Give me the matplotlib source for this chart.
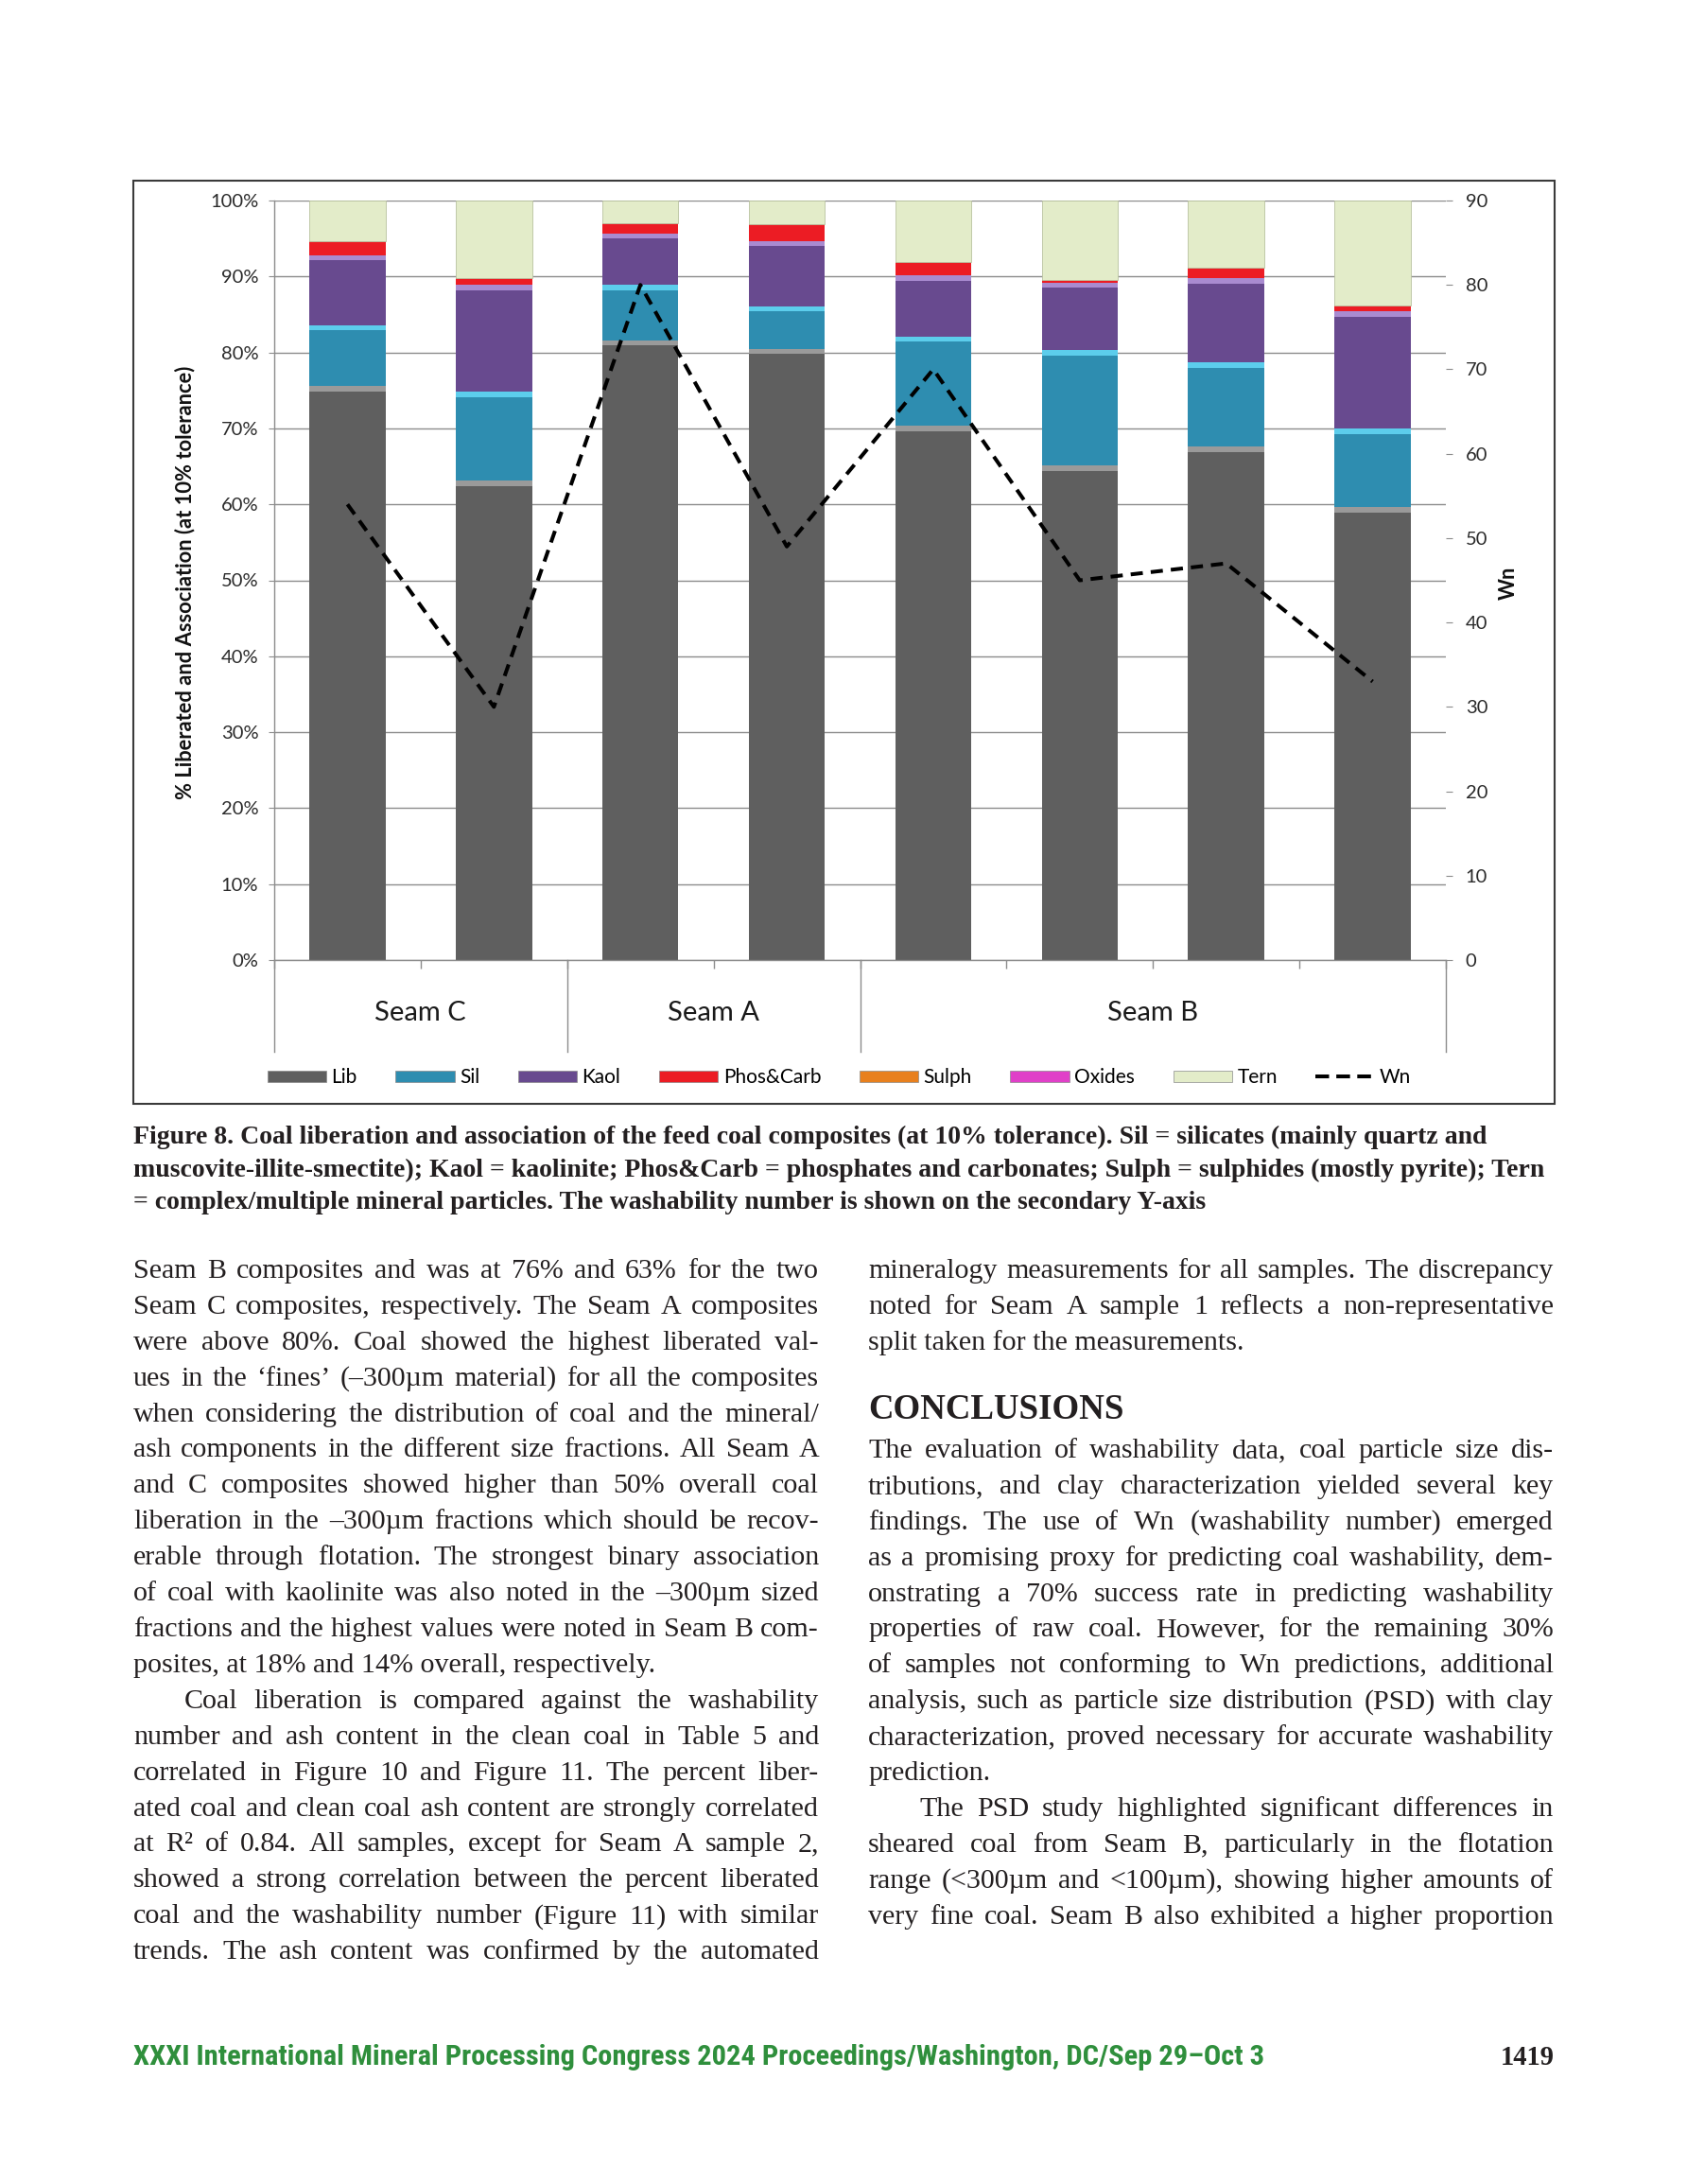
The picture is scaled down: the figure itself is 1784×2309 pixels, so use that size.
import matplotlib
matplotlib.use('Agg')
import matplotlib.pyplot as plt
import matplotlib.transforms as mtransforms
from matplotlib import font_manager
from matplotlib.patches import Rectangle, Patch
from matplotlib.lines import Line2D

W, H = 1784, 2309

# ---- chart data ----
samples = ['C1', 'C2', 'A1', 'A2', 'B1', 'B2', 'B3', 'B4']
groups = ['Seam C', 'Seam A', 'Seam B']
group_sizes = [2, 2, 4]

lib = [75.6, 63.1, 81.6, 80.5, 70.3, 65.1, 67.6, 59.6]
sil = [8.0, 11.7, 7.3, 5.6, 11.8, 15.2, 11.1, 10.4]
kaol = [9.2, 14.1, 6.8, 8.6, 8.0, 8.9, 11.1, 15.4]
phos = [1.9, 0.9, 1.3, 2.2, 1.8, 0.4, 1.4, 0.8]
sulph = [0, 0, 0, 0, 0, 0, 0, 0]
oxides = [0, 0, 0, 0, 0, 0, 0, 0]
tern = [5.3, 10.2, 3.0, 3.1, 8.1, 10.4, 8.8, 13.8]
wn = [54, 30, 80, 49, 70, 45, 47, 33]

series_names = ['Lib', 'Sil', 'Kaol', 'Phos&Carb', 'Sulph', 'Oxides', 'Tern']
series_vals = [lib, sil, kaol, phos, sulph, oxides, tern]
colors = ['#5f5f5f', '#2e8db0', '#684a8f', '#ec1c24', '#e8801e', '#e040c8', '#e3ecc9']
highlight = ['#9a9a9a', '#5ccdec', '#a98bd0', None, None, None, None]

# ---- page text ----
caption = [
    "Figure 8. Coal liberation and association of the feed coal composites (at 10% tolerance). Sil = silicates (mainly quartz and",
    "muscovite-illite-smectite); Kaol = kaolinite; Phos&Carb = phosphates and carbonates; Sulph = sulphides (mostly pyrite); Tern",
    "= complex/multiple mineral particles. The washability number is shown on the secondary Y-axis",
]
left_col = [
    ("Seam B composites and was at 76% and 63% for the two", 0, False),
    ("Seam C composites, respectively. The Seam A composites", 0, False),
    ("were above 80%. Coal showed the highest liberated val-", 0, False),
    ("ues in the \u2018fines\u2019 (\u2013300\u00b5m material) for all the composites", 0, False),
    ("when considering the distribution of coal and the mineral/", 0, False),
    ("ash components in the different size fractions. All Seam A", 0, False),
    ("and C composites showed higher than 50% overall coal", 0, False),
    ("liberation in the \u2013300\u00b5m fractions which should be recov-", 0, False),
    ("erable through flotation. The strongest binary association", 0, False),
    ("of coal with kaolinite was also noted in the \u2013300\u00b5m sized", 0, False),
    ("fractions and the highest values were noted in Seam B com-", 0, False),
    ("posites, at 18% and 14% overall, respectively.", 0, True),
    ("Coal liberation is compared against the washability", 1, False),
    ("number and ash content in the clean coal in Table 5 and", 0, False),
    ("correlated in Figure 10 and Figure 11. The percent liber-", 0, False),
    ("ated coal and clean coal ash content are strongly correlated", 0, False),
    ("at R\u00b2 of 0.84. All samples, except for Seam A sample 2,", 0, False),
    ("showed a strong correlation between the percent liberated", 0, False),
    ("coal and the washability number (Figure 11) with similar", 0, False),
    ("trends. The ash content was confirmed by the automated", 0, False),
]
right_top = [
    ("mineralogy measurements for all samples. The discrepancy", 0, False),
    ("noted for Seam A sample 1 reflects a non-representative", 0, False),
    ("split taken for the measurements.", 0, True),
]
right_bottom = [
    ("The evaluation of washability data, coal particle size dis-", 0, False),
    ("tributions, and clay characterization yielded several key", 0, False),
    ("findings. The use of Wn (washability number) emerged", 0, False),
    ("as a promising proxy for predicting coal washability, dem-", 0, False),
    ("onstrating a 70% success rate in predicting washability", 0, False),
    ("properties of raw coal. However, for the remaining 30%", 0, False),
    ("of samples not conforming to Wn predictions, additional", 0, False),
    ("analysis, such as particle size distribution (PSD) with clay", 0, False),
    ("characterization, proved necessary for accurate washability", 0, False),
    ("prediction.", 0, True),
    ("The PSD study highlighted significant differences in", 1, False),
    ("sheared coal from Seam B, particularly in the flotation", 0, False),
    ("range (<300\u00b5m and <100\u00b5m), showing higher amounts of", 0, False),
    ("very fine coal. Seam B also exhibited a higher proportion", 0, False),
]
footer = "XXXI International Mineral Processing Congress 2024 Proceedings/Washington, DC/Sep 29\u2013Oct 3"
page_no = "1419"

installed = {f.name for f in font_manager.fontManager.ttflist}
serif = ['Liberation Serif', 'DejaVu Serif']
chart_font = ['Lato', 'DejaVu Sans']
cond = [f for f in ['Liberation Sans Narrow', 'Roboto Condensed', 'Roboto'] if f in installed] + ['DejaVu Sans']
ink = '#231f20'

fig = plt.figure(figsize=(W / 100, H / 100), dpi=100)
renderer = fig.canvas.get_renderer()


def fx(px):
    return px / W


def fy(py):
    return 1 - py / H


def text_w(s, size, **kw):
    t = fig.text(0, 0, s, fontsize=size, **kw)
    w = t.get_window_extent(renderer).width
    t.remove()
    return w


def fit_size(s, width, **kw):
    return 20 * width / text_w(s, 20, **kw)


# ---- chart ----
ax = fig.add_axes([fx(290), fy(1015), fx(1529) - fx(290), fy(212) - fy(1015)])
x = list(range(len(samples)))
bw = 0.52
bottom = [0.0] * len(samples)
handles = []
for name, vals, c, hl in zip(series_names, series_vals, colors, highlight):
    ec = '#b9c2a0' if name == 'Tern' else 'none'
    ax.bar(x, vals, bw, bottom=bottom, color=c, edgecolor=ec, linewidth=0.6, zorder=2)
    if hl is not None:
        tops = [b + v for b, v in zip(bottom, vals)]
        ax.bar(x, [0.7] * len(x), bw, bottom=[t - 0.7 for t in tops], color=hl, edgecolor='none', zorder=3)
    handles.append(Patch(facecolor=c, edgecolor='#8a8a8a', linewidth=0.5, label=name))
    bottom = [b + v for b, v in zip(bottom, vals)]

ax.set_xlim(-0.5, len(samples) - 0.5)
ax.set_ylim(0, 100)
ax.set_yticks(range(0, 101, 10))
ax.set_yticklabels(['%d%%' % v for v in range(0, 101, 10)], family=chart_font, fontsize=14.5, color='#2a2a2a')
ax.yaxis.grid(True, color='#8c8c8c', linewidth=1.0, zorder=0)
ax.set_axisbelow(True)
ax.tick_params(axis='y', direction='out', length=4, color='#8c8c8c', pad=8)
bounds = [i - 0.5 for i in range(len(samples) + 1)]
ax.set_xticks(bounds)
ax.set_xticklabels([''] * len(bounds))
ax.tick_params(axis='x', direction='out', length=6.5, color='#8c8c8c', width=1)
for s in ['top', 'right']:
    ax.spines[s].set_visible(False)
for s in ['left', 'bottom']:
    ax.spines[s].set_color('#8c8c8c')
    ax.spines[s].set_linewidth(1.0)

# seam group separators and labels below the axis
trans = mtransforms.blended_transform_factory(ax.transData, ax.transAxes)
edges = [-0.5]
for n in group_sizes:
    edges.append(edges[-1] + n)
for e in edges:
    ax.plot([e, e], [0, -0.121], transform=trans, clip_on=False, color='#8c8c8c', lw=1.0)
for g, a, b in zip(groups, edges[:-1], edges[1:]):
    ax.text((a + b) / 2, -0.07, g, transform=trans, ha='center', va='center',
            family=chart_font, fontsize=21, color='#1a1a1a')

ax2 = ax.twinx()
ax2.set_ylim(0, 90)
ax2.set_yticks(range(0, 91, 10))
ax2.set_yticklabels([str(v) for v in range(0, 91, 10)], family=chart_font, fontsize=14.5, color='#2a2a2a')
ax2.tick_params(axis='y', direction='out', length=5, color='#8c8c8c', pad=10)
for s in ax2.spines.values():
    s.set_visible(False)
ax2.plot(x, wn, color='black', lw=2.9, linestyle=(0, (3.2, 2.1)), zorder=5)
handles.append(Line2D([0], [0], color='black', lw=2.9, linestyle=(0, (3.6, 1.9)), label='Wn'))

ylab = "% Liberated and Association (at 10% tolerance)"
ys = fit_size(ylab, 457, family=chart_font, fontweight='bold')
fig.text(fx(196), fy(616), ylab, rotation=90, ha='center', va='center',
         family=chart_font, fontweight='bold', fontsize=ys, color='#111111')
fig.text(fx(1595), fy(616), 'Wn', rotation=90, ha='center', va='center',
         family=chart_font, fontweight='bold', fontsize=ys, color='#111111')

fig.legend(handles=handles, loc='center', bbox_to_anchor=(fx((287 + 1488) / 2), fy(1139)), ncol=8,
           frameon=False, prop={'family': chart_font, 'size': 15}, handlelength=3.0,
           handleheight=0.5, handletextpad=0.25, columnspacing=1.95, borderpad=0)

fig.add_artist(Rectangle((fx(141.4), fy(1166.8)), fx(1644.1) - fx(141.4), fy(191.5) - fy(1166.8),
                         transform=fig.transFigure, fill=False, edgecolor='#3a3a3a', linewidth=1.5))

# ---- caption ----
cs = fit_size(caption[1], 1491, family=serif, fontweight='bold')
for line, by in zip(caption, [1209, 1243.5, 1278]):
    fig.text(fx(141), fy(by), line, ha='left', va='baseline', family=serif,
             fontweight='bold', fontsize=cs, color=ink)

# ---- body text, justified ----
col_w = 725
body_lines = [t for t, _, last in left_col + right_top + right_bottom if not last]
bs = min(fit_size(t, col_w, family=serif) for t in body_lines) * 0.995
indent_px = 54


def set_column(lines, x0, baselines):
    x1 = x0 + col_w
    for (line, ind, last), by in zip(lines, baselines):
        start = x0 + ind * indent_px
        words = line.split(' ')
        if last or len(words) == 1:
            fig.text(fx(start), fy(by), line, ha='left', va='baseline', family=serif, fontsize=bs, color=ink)
            continue
        widths = [text_w(w, bs, family=serif) for w in words]
        gap = (x1 - start - sum(widths)) / (len(words) - 1)
        xx = start
        for w, wd in zip(words, widths):
            fig.text(fx(xx), fy(by), w, ha='left', va='baseline', family=serif, fontsize=bs, color=ink)
            xx += wd + gap


step = 37.9
set_column(left_col, 141, [1351 + step * i for i in range(len(left_col))])
set_column(right_top, 918, [1351 + step * i for i in range(len(right_top))])
set_column(right_bottom, 918, [1541 + step * i for i in range(len(right_bottom))])

hs = fit_size("CONCLUSIONS", 270, family=serif, fontweight='bold')
fig.text(fx(918), fy(1500), "CONCLUSIONS", ha='left', va='baseline', family=serif,
         fontweight='bold', fontsize=hs, color=ink)

# ---- footer ----
fs = fit_size(footer, 1192, family=cond, fontweight='bold')
fig.text(fx(141), fy(2183), footer, ha='left', va='baseline', family=cond,
         fontweight='bold', fontsize=fs, color='#2f8f3c')
ps = fit_size(page_no, 57, family=serif, fontweight='bold')
fig.text(fx(1644), fy(2183), page_no, ha='right', va='baseline', family=serif,
         fontweight='bold', fontsize=ps, color=ink)

fig.savefig('out.png', dpi=100, facecolor='white')
